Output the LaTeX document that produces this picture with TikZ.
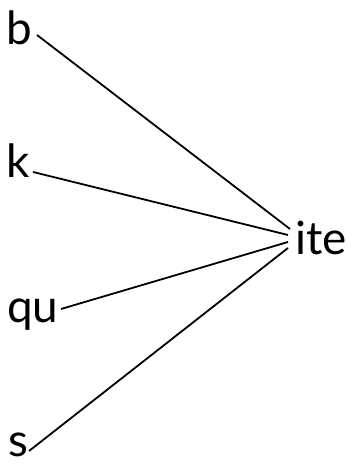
\documentclass[tikz,border=0pt]{standalone}
\usepackage{fontspec}
\setmainfont{Lato}
\begin{document}
\begin{tikzpicture}[x=1bp,y=1bp,
  lbl/.style={anchor=base west,inner sep=0pt,font=\fontsize{46}{46}\selectfont},
  link/.style={line width=1.8bp,black}]
\useasboundingbox (0,0) rectangle (346,467);
\node[lbl] (b) at (6,467-45) {b};
\node[lbl] (k) at (6,467-178) {k};
\node[lbl] (qu) at (7,467-323) {qu};
\node[lbl] (s) at (8,467-457) {s};
\node[lbl] (ite) at (295,467-255) {ite};
\coordinate (bE) at (37,467-35);
\coordinate (kE) at (33,467-172);
\coordinate (quE) at (61,467-309);
\coordinate (sE) at (29,467-451);
\coordinate (i1) at (290,467-229);
\coordinate (i2) at (288,467-235);
\coordinate (i3) at (288,467-242);
\coordinate (i4) at (288,467-248);
\draw[link] (bE) -- (i1);
\draw[link] (kE) -- (i2);
\draw[link] (quE) -- (i3);
\draw[link] (sE) -- (i4);
\end{tikzpicture}
\end{document}
